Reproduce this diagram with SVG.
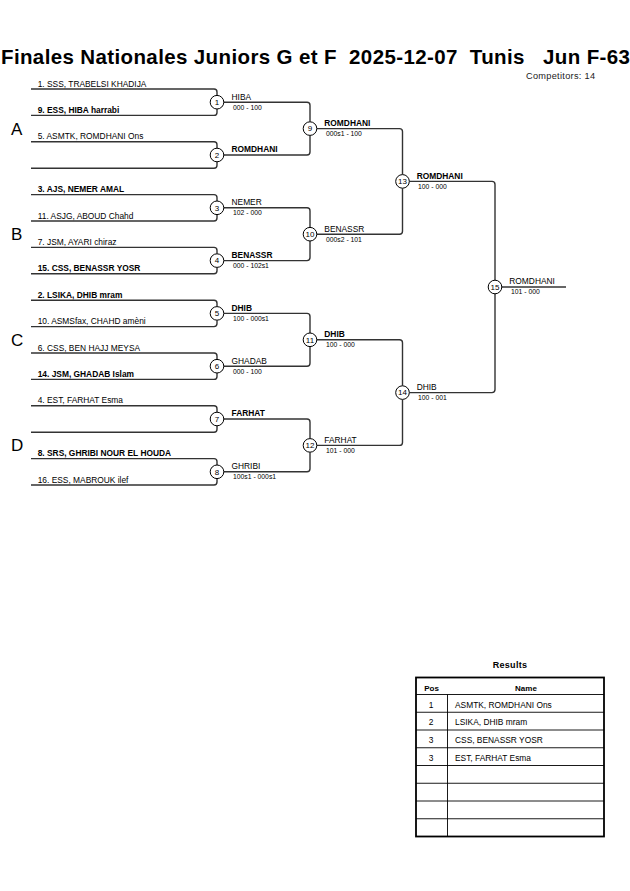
<svg xmlns="http://www.w3.org/2000/svg" width="630" height="891" viewBox="0 0 630 891">
<style>
text{font-family:"Liberation Sans",Arial,sans-serif;fill:#000}
.t{font-size:20.5px;font-weight:bold;white-space:pre}
.p{font-size:8.4px}
.b{font-weight:bold}
.w{font-size:8.4px}
.s{font-size:6.8px}
.n{font-size:8px;text-anchor:middle}
.reg{font-size:17px}
.ln{fill:none;stroke:#333;stroke-width:1.4}
.c{fill:#fff;stroke:#000;stroke-width:1}
.tb{fill:none;stroke:#000;stroke-width:0.9}
.tbo{fill:none;stroke:#000;stroke-width:1.8}
</style>
<rect width="630" height="891" fill="#fff"/>
<text id="title" class="t" x="1" y="64" xml:space="preserve" textLength="629" lengthAdjust="spacing">Finales Nationales Juniors G et F  2025-12-07  Tunis   Jun F-63</text>
<text id="competitors" x="526" y="79" style="font-size:9.2px;letter-spacing:0.3px;fill:#222">Competitors: 14</text>
<g id="regions">
<text class="reg" x="11" y="134.6">A</text>
<text class="reg" x="11" y="240.2">B</text>
<text class="reg" x="11" y="345.8">C</text>
<text class="reg" x="11" y="451.4">D</text>
</g>
<g id="connectors">
<path class="ln" d="M31,89H214Q217,89 217,92V95.4M31,115.4H214Q217,115.4 217,112.4V109"/>
<path class="ln" d="M31,141.8H214Q217,141.8 217,144.8V148.2M31,168.2H214Q217,168.2 217,165.2V161.8"/>
<path class="ln" d="M31,194.6H214Q217,194.6 217,197.6V201M31,221H214Q217,221 217,218V214.6"/>
<path class="ln" d="M31,247.4H214Q217,247.4 217,250.4V253.8M31,273.8H214Q217,273.8 217,270.8V267.4"/>
<path class="ln" d="M31,300.2H214Q217,300.2 217,303.2V306.6M31,326.6H214Q217,326.6 217,323.6V320.2"/>
<path class="ln" d="M31,353H214Q217,353 217,356V359.4M31,379.4H214Q217,379.4 217,376.4V373"/>
<path class="ln" d="M31,405.8H214Q217,405.8 217,408.8V412.2M31,432.2H214Q217,432.2 217,429.2V425.8"/>
<path class="ln" d="M31,458.6H214Q217,458.6 217,461.6V465M31,485H214Q217,485 217,482V478.6"/>
<path class="ln" d="M223.8,102.2H307Q310,102.2 310,105.2V121.8M223.8,155H307Q310,155 310,152V135.4"/>
<path class="ln" d="M223.8,207.8H307Q310,207.8 310,210.8V227.4M223.8,260.6H307Q310,260.6 310,257.6V241"/>
<path class="ln" d="M223.8,313.4H307Q310,313.4 310,316.4V333M223.8,366.2H307Q310,366.2 310,363.2V346.6"/>
<path class="ln" d="M223.8,419H307Q310,419 310,422V438.6M223.8,471.8H307Q310,471.8 310,468.8V452.2"/>
<path class="ln" d="M316.8,128.6H399.5Q402.5,128.6 402.5,131.6V174.6M316.8,234.2H399.5Q402.5,234.2 402.5,231.2V188.2"/>
<path class="ln" d="M316.8,339.8H399.5Q402.5,339.8 402.5,342.8V385.8M316.8,445.4H399.5Q402.5,445.4 402.5,442.4V399.4"/>
<path class="ln" d="M409.3,181.4H492Q495,181.4 495,184.4V280.2M409.3,392.6H492Q495,392.6 495,389.6V293.8"/>
<path class="ln" d="M501.8,287H566"/>
</g>
<g id="players">
<text class="p" x="37.7" y="86.5">1. SSS, TRABELSI KHADIJA</text>
<text class="p b" x="37.7" y="112.9">9. ESS, HIBA harrabi</text>
<text class="p" x="37.7" y="139.3">5. ASMTK, ROMDHANI Ons</text>
<text class="p b" x="37.7" y="192.1">3. AJS, NEMER AMAL</text>
<text class="p" x="37.7" y="218.5">11. ASJG, ABOUD Chahd</text>
<text class="p" x="37.7" y="244.9">7. JSM, AYARI chiraz</text>
<text class="p b" x="37.7" y="271.3">15. CSS, BENASSR YOSR</text>
<text class="p b" x="37.7" y="297.7">2. LSIKA, DHIB mram</text>
<text class="p" x="37.7" y="324.1">10. ASMSfax, CHAHD amèni</text>
<text class="p" x="37.7" y="350.5">6. CSS, BEN HAJJ MEYSA</text>
<text class="p b" x="37.7" y="376.9">14. JSM, GHADAB Islam</text>
<text class="p" x="37.7" y="403.3">4. EST, FARHAT Esma</text>
<text class="p b" x="37.7" y="456.1">8. SRS, GHRIBI NOUR EL HOUDA</text>
<text class="p" x="37.7" y="482.5">16. ESS, MABROUK ilef</text>
</g>
<g id="m1"><circle class="c" cx="217" cy="102.2" r="6.8"/><text class="n" x="217" y="105">1</text><text class="w" x="231.5" y="99.5">HIBA</text><text class="s" x="233" y="109.5">000 - 100</text></g>
<g id="m2"><circle class="c" cx="217" cy="155" r="6.8"/><text class="n" x="217" y="157.8">2</text><text class="w b" x="231.5" y="152.3">ROMDHANI</text></g>
<g id="m3"><circle class="c" cx="217" cy="207.8" r="6.8"/><text class="n" x="217" y="210.6">3</text><text class="w" x="231.5" y="205.1">NEMER</text><text class="s" x="233" y="215.1">102 - 000</text></g>
<g id="m4"><circle class="c" cx="217" cy="260.6" r="6.8"/><text class="n" x="217" y="263.4">4</text><text class="w b" x="231.5" y="257.9">BENASSR</text><text class="s" x="233" y="267.9">000 - 102s1</text></g>
<g id="m5"><circle class="c" cx="217" cy="313.4" r="6.8"/><text class="n" x="217" y="316.2">5</text><text class="w b" x="231.5" y="310.7">DHIB</text><text class="s" x="233" y="320.7">100 - 000s1</text></g>
<g id="m6"><circle class="c" cx="217" cy="366.2" r="6.8"/><text class="n" x="217" y="369">6</text><text class="w" x="231.5" y="363.5">GHADAB</text><text class="s" x="233" y="373.5">000 - 100</text></g>
<g id="m7"><circle class="c" cx="217" cy="419" r="6.8"/><text class="n" x="217" y="421.8">7</text><text class="w b" x="231.5" y="416.3">FARHAT</text></g>
<g id="m8"><circle class="c" cx="217" cy="471.8" r="6.8"/><text class="n" x="217" y="474.6">8</text><text class="w" x="231.5" y="469.1">GHRIBI</text><text class="s" x="233" y="479.1">100s1 - 000s1</text></g>
<g id="m9"><circle class="c" cx="310" cy="128.6" r="6.8"/><text class="n" x="310" y="131.4">9</text><text class="w b" x="324.3" y="125.9">ROMDHANI</text><text class="s" x="326" y="135.9">000s1 - 100</text></g>
<g id="m10"><circle class="c" cx="310" cy="234.2" r="6.8"/><text class="n" x="310" y="237">10</text><text class="w" x="324.3" y="231.5">BENASSR</text><text class="s" x="326" y="241.5">000s2 - 101</text></g>
<g id="m11"><circle class="c" cx="310" cy="339.8" r="6.8"/><text class="n" x="310" y="342.6">11</text><text class="w b" x="324.3" y="337.1">DHIB</text><text class="s" x="326" y="347.1">100 - 000</text></g>
<g id="m12"><circle class="c" cx="310" cy="445.4" r="6.8"/><text class="n" x="310" y="448.2">12</text><text class="w" x="324.3" y="442.7">FARHAT</text><text class="s" x="326" y="452.7">101 - 000</text></g>
<g id="m13"><circle class="c" cx="402.5" cy="181.4" r="6.8"/><text class="n" x="402.5" y="184.2">13</text><text class="w b" x="416.7" y="178.7">ROMDHANI</text><text class="s" x="418" y="188.7">100 - 000</text></g>
<g id="m14"><circle class="c" cx="402.5" cy="392.6" r="6.8"/><text class="n" x="402.5" y="395.4">14</text><text class="w" x="416.7" y="389.9">DHIB</text><text class="s" x="418" y="399.9">100 - 001</text></g>
<g id="m15"><circle class="c" cx="495" cy="287" r="6.8"/><text class="n" x="495" y="289.8">15</text><text class="w" x="509.3" y="284.3">ROMDHANI</text><text class="s" x="511" y="294.3">101 - 000</text></g>
<g id="results">
<text x="510" y="668" style="font-size:9px;font-weight:bold;text-anchor:middle;letter-spacing:0.3px">Results</text>
<rect class="tbo" x="416" y="677.5" width="188" height="159"/>
<path class="tb" d="M416,694.5H604M416,712.25H604M416,730H604M416,747.75H604M416,765.5H604M416,783.25H604M416,801H604M416,818.75H604M447.5,694.5V836.5"/>
<text x="431.5" y="690.5" style="font-size:8px;font-weight:bold;text-anchor:middle">Pos</text>
<text x="526" y="690.5" style="font-size:8px;font-weight:bold;text-anchor:middle">Name</text>
<text x="431" y="707.5" style="font-size:8.4px;text-anchor:middle">1</text>
<text x="431" y="725.25" style="font-size:8.4px;text-anchor:middle">2</text>
<text x="431" y="743" style="font-size:8.4px;text-anchor:middle">3</text>
<text x="431" y="760.75" style="font-size:8.4px;text-anchor:middle">3</text>
<text class="p" x="455" y="707.5">ASMTK, ROMDHANI Ons</text>
<text class="p" x="455" y="725.25">LSIKA, DHIB mram</text>
<text class="p" x="455" y="743">CSS, BENASSR YOSR</text>
<text class="p" x="455" y="760.75">EST, FARHAT Esma</text>
</g>
</svg>
